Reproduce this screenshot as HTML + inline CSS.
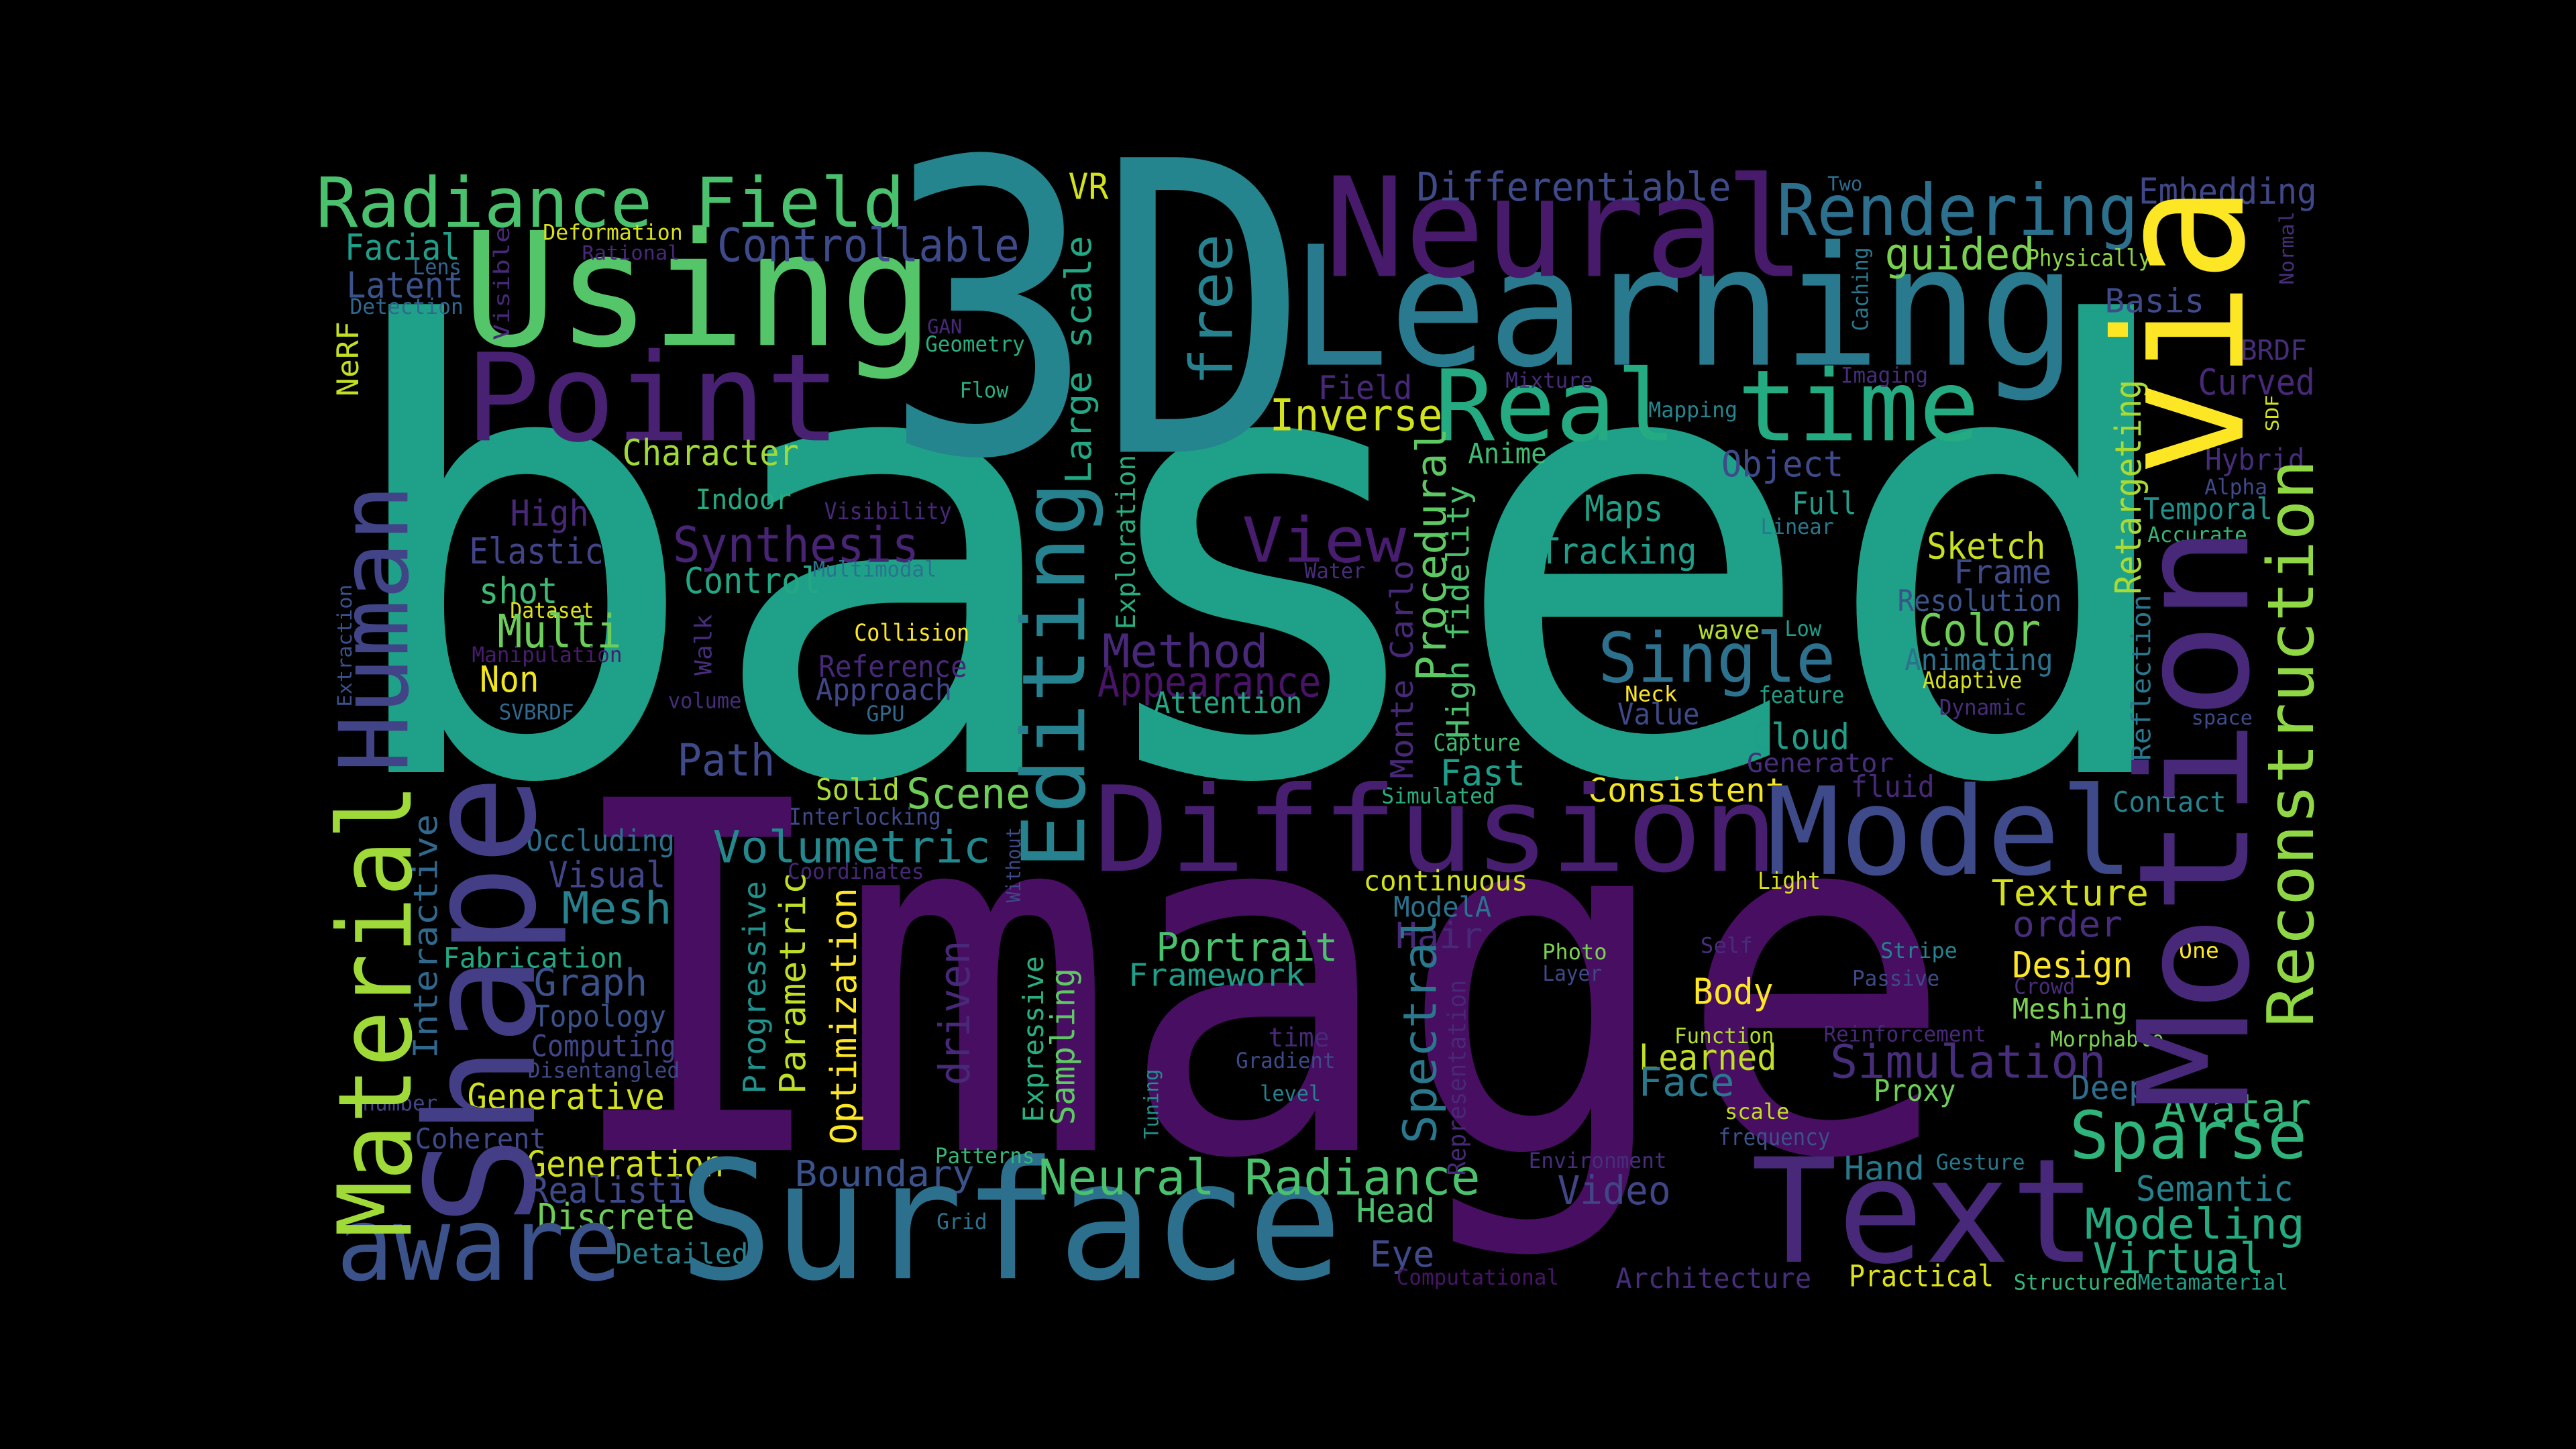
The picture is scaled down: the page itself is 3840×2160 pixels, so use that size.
<!DOCTYPE html>
<html><head><meta charset="utf-8"><title>Word Cloud</title>
<style>
html,body{margin:0;padding:0;background:#000;}
svg{display:block;}
text{font-family:"DejaVu Sans Mono","Liberation Mono",monospace;}
</style></head>
<body>
<svg id="cloud" width="3840" height="2160" viewBox="0 0 1568 882" xmlns="http://www.w3.org/2000/svg">
<rect x="0" y="0" width="1568" height="882" fill="#000"/>
<g id="words"></g>
</svg>
<script>
// Horizontal words: [text, left, right, baseline, fontSize, color]
const hWords = [
["based",235,1300,470,375,"#1fa088"],
["Image",365,1165,700,295,"#470e61"],
["3D",545,790,275,246,"#25858e"],
["Learning",800,1250,222,101,"#297a8e"],
["Neural",815,1090,168,84,"#481a6c"],
["Using",290,560,210,96,"#54c568"],
["Point",290,505,268,74,"#482173"],
["Radiance Field",203,540,138,42,"#4ac16d"],
["Facial",212,278,158,22,"#1f9e89"],
["Lens",252,280,167,13,"#33638d"],
["Latent",213,280,181,22,"#3b528b"],
["Detection",215,280,191,13,"#31688e"],
["Deformation",333,413,146,13,"#d8e219"],
["Rational",356,412,158,12,"#482878"],
["Controllable",442,615,159,28,"#3e4a89"],
["VR",651,674,121,22,"#d2e21b"],
["GAN",565,585,203,12,"#482878"],
["Geometry",565,622,214,13,"#29af7f"],
["Flow",585,613,242,13,"#29af7f"],
["Character",382,483,283,22,"#a0da39"],
["Indoor",425,480,310,17,"#25ab82"],
["High",312,357,320,22,"#482878"],
["Visibility",504,577,316,14,"#482878"],
["Elastic",288,365,343,22,"#414487"],
["Synthesis",414,555,342,30,"#482475"],
["Control",419,497,361,22,"#22a884"],
["Multimodal",497,568,351,13,"#2c728e"],
["shot",293,338,367,22,"#3fbc73"],
["Dataset",312,360,376,13,"#dde318"],
["Multi",305,376,394,28,"#6ccd5a"],
["Manipulation",290,376,403,13,"#481c6e"],
["Non",293,327,421,22,"#f1e51d"],
["SVBRDF",305,348,438,13,"#31688e"],
["volume",408,450,431,13,"#472d7b"],
["Collision",522,588,390,14,"#fde725"],
["Reference",501,586,412,18,"#482878"],
["Approach",499,577,426,18,"#3f4788"],
["GPU",528,550,439,13,"#31688e"],
["Method",674,769,406,28,"#482878"],
["Appearance",672,800,424,26,"#481467"],
["Attention",705,790,434,18,"#22a884"],
["View",759,853,342,38,"#481c6e"],
["Water",795,830,352,13,"#472d7b"],
["Inverse",776,875,262,27,"#d2e21b"],
["Field",804,858,243,20,"#482878"],
["Real time",883,1195,268,60,"#25ab82"],
["Anime",895,940,282,17,"#3fbc73"],
["Mixture",918,968,236,13,"#472d7b"],
["Mapping",1005,1056,254,13,"#25858e"],
["Imaging",1122,1172,233,13,"#472d7b"],
["Differentiable",868,1048,122,24,"#3e4a89"],
["Two",1113,1133,116,12,"#2f6c8e"],
["Rendering",1088,1295,143,43,"#2d708e"],
["Embedding",1305,1407,124,22,"#3f4788"],
["guided",1150,1236,164,27,"#7ad151"],
["Physically",1236,1307,162,14,"#8fd744"],
["Basis",1283,1340,190,20,"#3e4a89"],
["BRDF",1365,1403,219,17,"#472d7b"],
["Curved",1340,1407,240,22,"#482878"],
["Object",1050,1120,290,22,"#3e4a89"],
["Maps",966,1011,317,22,"#1fa187"],
["Full",1092,1129,313,19,"#1f9e89"],
["Linear",1073,1115,325,13,"#2a788e"],
["Tracking",940,1030,343,22,"#1f9e89"],
["Sketch",1175,1243,340,22,"#c8e020"],
["Frame",1191,1247,355,20,"#3e4a89"],
["Hybrid",1344,1401,286,18,"#472d7b"],
["Alpha",1343,1379,301,13,"#3e4a89"],
["Temporal",1307,1381,316,18,"#21918c"],
["Accurate",1309,1366,330,13,"#35b779"],
["Resolution",1158,1252,372,18,"#3b528b"],
["Color",1170,1240,393,27,"#6ece58"],
["Animating",1162,1247,408,18,"#2c728e"],
["Adaptive",1172,1229,419,14,"#d5e21a"],
["Dynamic",1182,1232,435,13,"#472d7b"],
["Single",977,1113,415,42,"#2c728e"],
["wave",1035,1070,389,16,"#b5de2b"],
["Low",1087,1108,387,13,"#1f9e89"],
["Neck",990,1020,427,13,"#fde725"],
["Value",986,1033,441,18,"#3e4a89"],
["feature",1072,1121,428,14,"#1fa187"],
["space",1335,1370,441,12,"#3e4a89"],
["Cloud",1068,1124,456,22,"#1f9e89"],
["Generator",1066,1150,470,16,"#472d7b"],
["fluid",1128,1176,485,18,"#482878"],
["Contact",1288,1353,494,17,"#26828e"],
["Capture",874,924,457,14,"#3fbc73"],
["Fast",878,927,478,22,"#1f9e89"],
["Simulated",843,908,489,13,"#29af7f"],
["Consistent",970,1083,488,20,"#f4e61e"],
["Diffusion",678,1070,530,72,"#481f70"],
["Model",1082,1292,532,74,"#3e4a89"],
["Path",414,470,472,27,"#3e4a89"],
["Solid",498,546,487,18,"#a8db34"],
["Scene",554,625,492,26,"#6ece58"],
["Interlocking",483,570,502,14,"#3e4a89"],
["Occluding",323,408,518,18,"#2d708e"],
["Volumetric",439,598,525,27,"#23898e"],
["Coordinates",482,560,535,13,"#482878"],
["Visual",336,403,540,22,"#414487"],
["Mesh",344,407,562,27,"#26828e"],
["Fabrication",273,376,589,17,"#22a884"],
["Graph",327,392,606,23,"#3b528b"],
["Topology",327,403,625,18,"#3b528b"],
["Computing",326,409,643,18,"#414487"],
["Disentangled",324,411,656,13,"#3e4a89"],
["Generative",288,401,675,22,"#d2e21b"],
["number",222,265,676,13,"#414487"],
["Coherent",255,330,699,17,"#3e4a89"],
["Generation",324,437,716,22,"#d0e11c"],
["Realistic",325,427,732,22,"#3e4a89"],
["Discrete",330,420,748,22,"#6ece58"],
["Detailed",377,453,769,17,"#26828e"],
["aware",210,373,779,62,"#3b528b"],
["Surface",425,805,778,100,"#2d708e"],
["Boundary",487,590,722,22,"#3b528b"],
["Grid",571,600,748,13,"#2c728e"],
["Patterns",571,628,708,13,"#35b779"],
["Neural Radiance",640,893,727,30,"#4ac16d"],
["Portrait",707,811,585,24,"#4ac16d"],
["Framework",690,791,600,19,"#1f9e89"],
["time",773,808,637,16,"#482878"],
["Gradient",754,811,650,13,"#3e4a89"],
["level",768,803,670,13,"#26828e"],
["continuous",833,927,542,17,"#d2e21b"],
["ModelA",850,906,558,17,"#2c728e"],
["Hair",851,901,577,22,"#482878"],
["Light",1071,1107,541,14,"#dde318"],
["Texture",1215,1305,551,22,"#d5e21a"],
["order",1227,1290,570,22,"#472d7b"],
["Self",1036,1066,580,13,"#472d7b"],
["Photo",940,977,584,13,"#7ad151"],
["Layer",940,974,597,13,"#3e4a89"],
["Stripe",1146,1190,583,13,"#26828e"],
["Passive",1129,1179,600,13,"#3e4a89"],
["One",1327,1350,583,13,"#fde725"],
["Design",1227,1296,595,22,"#fde725"],
["Crowd",1227,1262,605,13,"#472d7b"],
["Body",1032,1078,611,22,"#fde725"],
["Meshing",1227,1293,620,17,"#7ad151"],
["Function",1021,1078,635,13,"#b5de2b"],
["Reinforcement",1113,1206,634,13,"#482878"],
["Morphable",1250,1315,637,13,"#7ad151"],
["Learned",1000,1079,651,22,"#c2df23"],
["Simulation",1119,1277,656,28,"#472d7b"],
["Face",999,1054,667,24,"#2a788e"],
["Proxy",1142,1189,670,18,"#6ece58"],
["Deep",1262,1306,669,20,"#2f6c8e"],
["Avatar",1318,1404,683,24,"#35b779"],
["scale",1051,1088,681,13,"#c2df23"],
["frequency",1048,1112,697,14,"#3b528b"],
["Sparse",1264,1400,705,40,"#2fb47c"],
["Environment",933,1012,711,13,"#472d7b"],
["Hand",1124,1170,718,20,"#2a788e"],
["Gesture",1180,1231,712,13,"#2a788e"],
["Semantic",1303,1393,731,21,"#26828e"],
["Video",950,1015,733,24,"#414487"],
["Head",827,872,744,20,"#4ac16d"],
["Modeling",1273,1399,754,26,"#25ab82"],
["Text",1072,1270,768,88,"#482878"],
["Virtual",1277,1375,775,26,"#26ad81"],
["Eye",835,872,771,22,"#3e4a89"],
["Computational",853,946,782,13,"#481467"],
["Architecture",987,1099,784,17,"#472d7b"],
["Practical",1128,1211,783,18,"#dde318"],
["Structured",1228,1299,785,13,"#35b779"],
["Metamaterial",1304,1390,785,13,"#1f9e89"]
];
// Vertical words (read bottom-to-top): [text, bottom, top, baselineX, fontSize, color]
const vWords = [
["NeRF",240,197,218,18,"#c2df23"],
["Visible",205,140,310,13,"#482878"],
["Human",465,300,248,58,"#414487"],
["Material",745,485,250,62,"#a0da39"],
["Shape",738,480,325,92,"#433e85"],
["Interactive",640,500,266,20,"#31688e"],
["Extraction",428,358,214,12,"#3b528b"],
["Walk",410,375,433,14,"#472d7b"],
["Editing",522,300,660,53,"#26828e"],
["Large scale",290,148,664,22,"#22a884"],
["free",232,145,750,36,"#26828e"],
["Exploration",380,280,691,16,"#29af7f"],
["Procedural",410,265,880,25,"#5ec962"],
["High fidelity",445,300,894,19,"#4ac16d"],
["Monte Carlo",470,345,860,19,"#482878"],
["Progressive",662,540,466,19,"#21918c"],
["Parametric",662,535,490,22,"#bddf26"],
["Optimization",692,545,521,22,"#fde725"],
["Without",548,505,621,12,"#3e4a89"],
["driven",658,575,590,26,"#482878"],
["Expressive",680,585,635,17,"#29af7f"],
["Sampling",682,592,654,20,"#5ec962"],
["Tuning",692,652,705,12,"#21918c"],
["Spectral",692,560,874,28,"#2a788e"],
["Representation",712,600,892,15,"#482878"],
["Caching",200,152,1137,13,"#2a788e"],
["Normal",172,130,1396,12,"#472d7b"],
["SDF",262,241,1387,11,"#d5e21a"],
["Retargeting",358,235,1303,22,"#a8db34"],
["Reflection",460,365,1309,16,"#2a788e"],
["via",285,118,1365,108,"#fde725"],
["Motion",665,330,1368,93,"#482878"],
["Reconstruction",615,290,1408,39,"#8fd744"]
];

const NS = "http://www.w3.org/2000/svg";
const group = document.getElementById("words");
function slug(s){return s.toLowerCase().replace(/[^a-z0-9]+/g,"-");}

hWords.forEach(function(w){
  const len = (w[2]-w[1])/0.94;
  const t = document.createElementNS(NS,"text");
  t.setAttribute("x", w[1]-0.03*len);
  t.setAttribute("y", w[3]);
  t.setAttribute("font-size", w[4]);
  t.setAttribute("fill", w[5]);
  t.setAttribute("textLength", len);
  t.setAttribute("lengthAdjust","spacingAndGlyphs");
  t.textContent = w[0];
  
  
  group.appendChild(t);
});

vWords.forEach(function(w){
  const len = (w[1]-w[2])/0.94;
  const t = document.createElementNS(NS,"text");
  t.setAttribute("transform","translate("+w[3]+","+(w[1]+0.03*len)+") rotate(-90)");
  t.setAttribute("x", 0);
  t.setAttribute("y", 0);
  t.setAttribute("font-size", w[4]);
  t.setAttribute("fill", w[5]);
  t.setAttribute("textLength", len);
  t.setAttribute("lengthAdjust","spacingAndGlyphs");
  t.textContent = w[0];
  
  
  group.appendChild(t);
});
</script>
</body></html>
